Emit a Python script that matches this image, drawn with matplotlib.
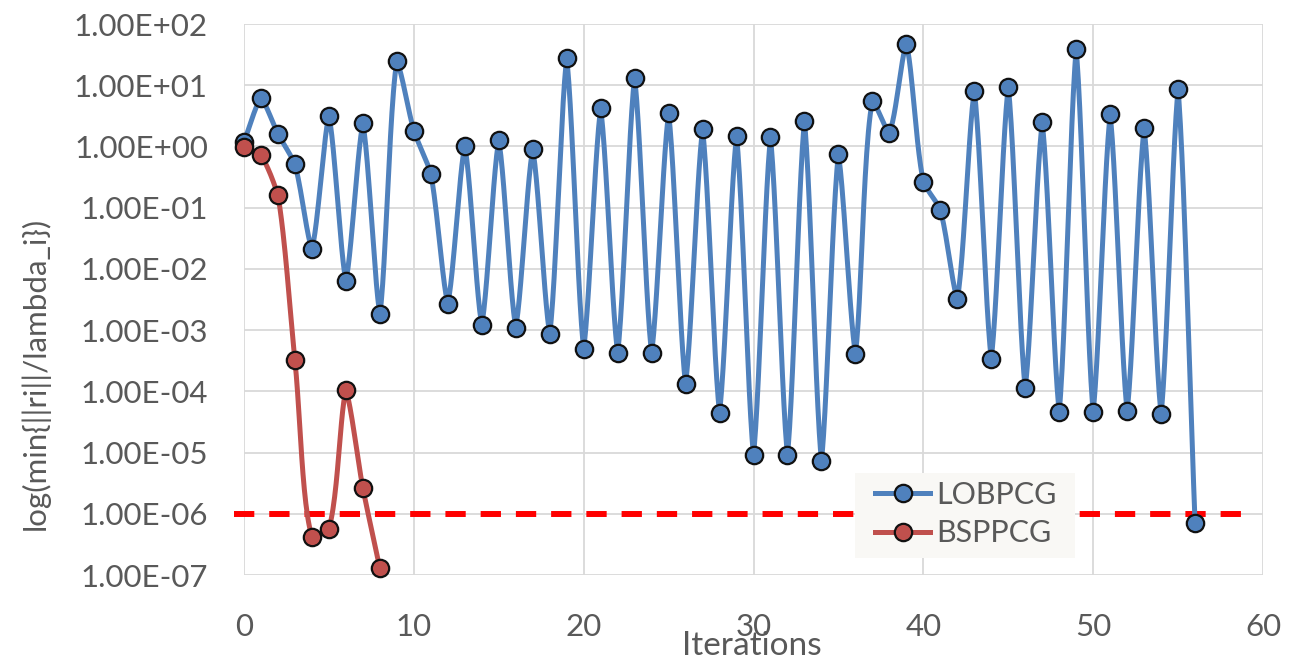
import numpy as np
import matplotlib
matplotlib.use("Agg")
import matplotlib.pyplot as plt
from matplotlib.lines import Line2D
from matplotlib.patches import Rectangle
from matplotlib.ticker import FixedLocator, FuncFormatter, NullLocator

# ---------------- data ----------------
lobpcg_x = list(range(57))
lobpcg_y = [1.19, 6.1, 1.6, 0.51, 0.021, 3.2, 0.0063, 2.4, 0.0018, 24.8,
            1.8, 0.36, 0.0027, 1.03, 0.0012, 1.27, 0.0011, 0.91, 0.00086, 28.0,
            0.00049, 4.2, 0.00042, 13.3, 0.00042, 3.47, 0.000131, 1.9, 4.5e-5, 1.48,
            9.1e-6, 1.41, 9.0e-6, 2.63, 7.2e-6, 0.75, 0.00041, 5.5, 1.67, 48.0,
            0.265, 0.093, 0.0032, 8.1, 0.00034, 9.5, 0.000112, 2.48, 4.6e-5, 38.5,
            4.6e-5, 3.34, 4.7e-5, 2.02, 4.2e-5, 8.7, 7.1e-7]
bsppcg_x = list(range(9))
bsppcg_y = [0.99, 0.72, 0.16, 0.00032, 4.2e-7, 5.7e-7, 1.05e-4, 2.6e-6, 1.28e-7]
threshold_x = [-0.59, 59.36]
threshold_y = [1e-6, 1e-6]
series_names = ["LOBPCG", "BSPPCG"]
x_ticks = [0, 10, 20, 30, 40, 50, 60]
y_ticks = [1e-7, 1e-6, 1e-5, 1e-4, 1e-3, 1e-2, 1e-1, 1e0, 1e1, 1e2]
x_label = "Iterations"
y_label = "log(min{||ri||/lambda_i})"

# ---------------- style ----------------
FONT = ["Lato", "DejaVu Sans"]
plt.rcParams["font.family"] = FONT
TXT = "#595959"
GRID = "#d9d9d9"
BLUE = "#4f81bd"
RED = "#c0504d"

W, H, DPI = 1297, 660, 100
fig = plt.figure(figsize=(W / DPI, H / DPI), dpi=DPI)
L, R, T, B = 244, 1263, 24, 575
ax = fig.add_axes([L / W, 1 - B / H, (R - L) / W, (B - T) / H])


def ax_frac(px, py):
    return (px - L) / (R - L), 1 - (py - T) / (B - T)


ax.set_yscale("log")
ax.set_xlim(0, 60)
ax.set_ylim(1e-7, 1e2)
ax.xaxis.set_major_locator(FixedLocator(x_ticks))
ax.yaxis.set_major_locator(FixedLocator(y_ticks))
ax.yaxis.set_minor_locator(NullLocator())
ax.yaxis.set_major_formatter(FuncFormatter(lambda v, p: f"{v:.2E}"))
ax.tick_params(axis="both", length=0, colors=TXT, labelsize=22.5)
ax.tick_params(axis="x", pad=27)
ax.tick_params(axis="y", pad=26)
for s in ax.spines.values():
    s.set_visible(False)
ax.grid(True, color=GRID, lw=1.3, zorder=0)
ax.set_axisbelow(True)


def smooth(xs, ys, n=24, alpha=0.5, tension=0.5):
    """Softened centripetal Catmull-Rom through the points, in display space."""
    tr = ax.transData
    P = tr.transform(np.column_stack([xs, ys]))
    P = np.vstack([2 * P[0] - P[1], P, 2 * P[-1] - P[-2]])
    out = []
    for i in range(1, len(P) - 2):
        p0, p1, p2, p3 = P[i - 1], P[i], P[i + 1], P[i + 2]
        t0 = 0.0
        t1 = t0 + max(np.linalg.norm(p1 - p0), 1e-6) ** alpha
        t2 = t1 + max(np.linalg.norm(p2 - p1), 1e-6) ** alpha
        t3 = t2 + max(np.linalg.norm(p3 - p2), 1e-6) ** alpha
        m1 = (t2 - t1) * ((p1 - p0) / (t1 - t0) - (p2 - p0) / (t2 - t0) + (p2 - p1) / (t2 - t1))
        m2 = (t2 - t1) * ((p2 - p1) / (t2 - t1) - (p3 - p1) / (t3 - t1) + (p3 - p2) / (t3 - t2))
        chord = p2 - p1
        m1 = tension * m1 + (1 - tension) * chord
        m2 = tension * m2 + (1 - tension) * chord
        s = np.linspace(0, 1, n, endpoint=(i == len(P) - 3))[:, None]
        h00 = 2 * s**3 - 3 * s**2 + 1
        h10 = s**3 - 2 * s**2 + s
        h01 = -2 * s**3 + 3 * s**2
        h11 = s**3 - s**2
        out.append(h00 * p1 + h10 * m1 + h01 * p2 + h11 * m2)
    C = np.vstack(out)
    D = tr.inverted().transform(C)
    return D[:, 0], D[:, 1]


# threshold dashed line
ax.plot(threshold_x, threshold_y, color="#ff0000", lw=4.3, dashes=(3.4, 2.5),
        dash_capstyle="butt", clip_on=False, zorder=2)

LW = 3.6
MS = 12.5
MEW = 1.6
for xs, ys, col, z in [(lobpcg_x, lobpcg_y, BLUE, 3), (bsppcg_x, bsppcg_y, RED, 4)]:
    cx, cy = smooth(xs, ys)
    ax.plot(cx, cy, color=col, lw=LW, solid_capstyle="round", solid_joinstyle="round",
            clip_on=False, zorder=z)
    ax.plot(xs, ys, ls="none", marker="o", ms=MS, mfc=col, mec="#111111", mew=MEW,
            clip_on=False, zorder=z + 0.5)

# legend background box
bx0, by0 = ax_frac(855, 558)
bx1, by1 = ax_frac(1075, 473)
ax.add_patch(Rectangle((bx0, by0), bx1 - bx0, by1 - by0, transform=ax.transAxes,
                       facecolor="#f9f8f5", edgecolor="none", zorder=2.5, clip_on=False))

handles = [Line2D([], [], color=BLUE, lw=LW, marker="o", ms=MS, mfc=BLUE, mec="#111111", mew=MEW),
           Line2D([], [], color=RED, lw=LW, marker="o", ms=MS, mfc=RED, mec="#111111", mew=MEW)]
leg = ax.legend(handles, series_names, loc="upper left",
                bbox_to_anchor=ax_frac(875, 480.5),
                borderaxespad=0, frameon=False, fontsize=22,
                handlelength=1.8, handletextpad=0.2, borderpad=0, labelspacing=0.35,
                labelcolor=TXT)
leg.set_zorder(10)

fig.text(752 / W, 1 - 655 / H, x_label, ha="center", va="baseline", fontsize=24, color=TXT)
fig.text(35 / W, 1 - 373 / H, y_label, ha="center", va="center", rotation=90, fontsize=22.5,
         color=TXT)

fig.savefig("out.png", dpi=DPI, facecolor="white")
